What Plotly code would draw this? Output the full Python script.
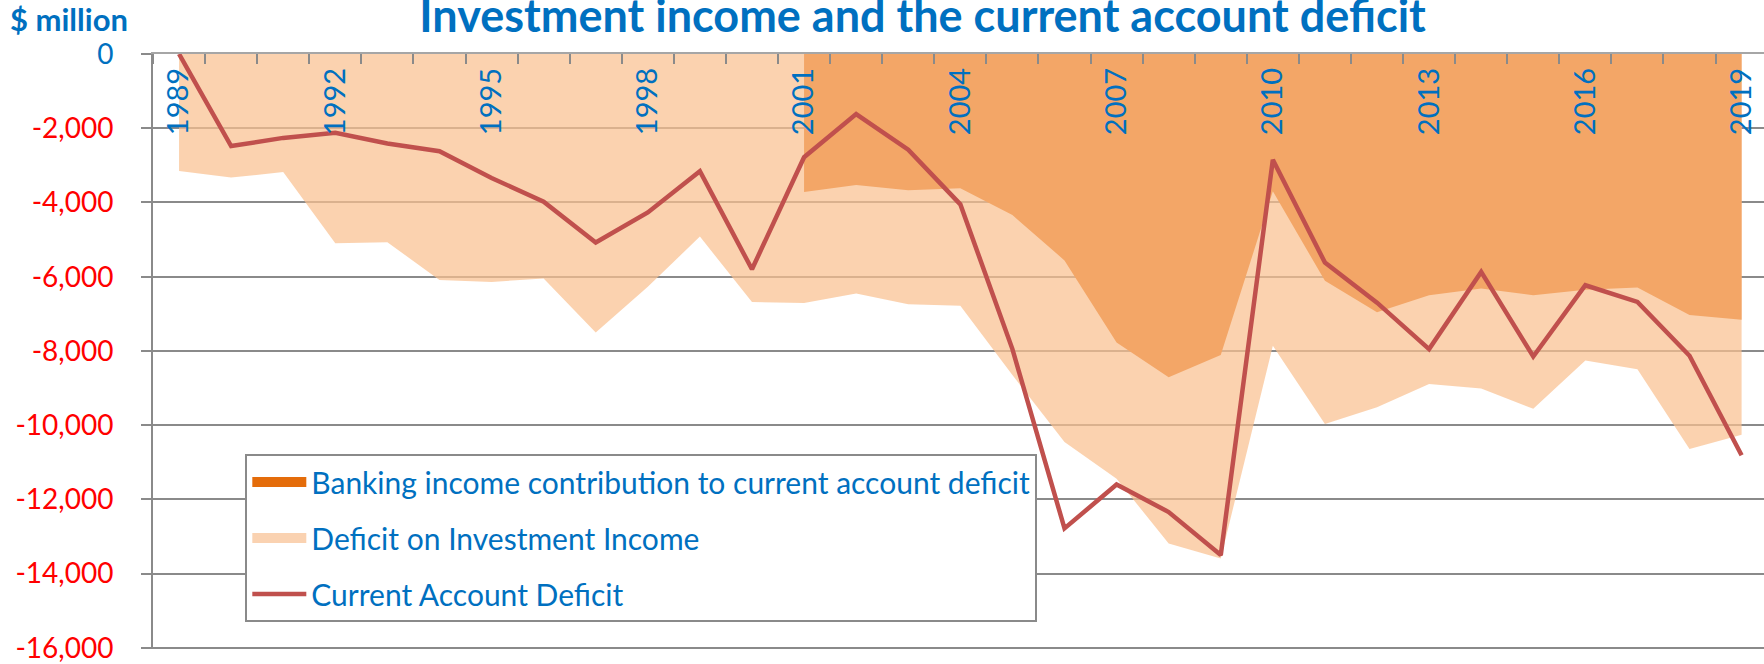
import plotly.graph_objects as go

years = list(range(1989, 2020))

current_account_deficit = [0, -2480, -2260, -2120, -2410, -2620, -3340, -3980, -5080, -4270,
                           -3160, -5800, -2780, -1620, -2580, -4050, -7950, -12780, -11600, -12340,
                           -13500, -2850, -5620, -6700, -7950, -5870, -8150, -6230, -6680, -8130,
                           -10810]

investment_income_deficit = [-3150, -3330, -3180, -5100, -5070, -6090, -6140, -6050, -7500, -6270,
                             -4920, -6680, -6710, -6450, -6740, -6780, -8650, -10450, -11440, -13190,
                             -13590, -7860, -9970, -9520, -8890, -9010, -9560, -8260, -8490, -10640,
                             -10260]

banking_years = list(range(2001, 2020))
banking_contribution = [-3720, -3530, -3670, -3620, -4340, -5560, -7770, -8710, -8110, -3700,
                        -6110, -6960, -6500, -6320, -6500, -6350, -6290, -7030, -7160]

year_tick_labels = years[::3]
y_tick_values = [0, -2000, -4000, -6000, -8000, -10000, -12000, -14000, -16000]

BLUE = "#0070C0"
RED = "#FF0000"
GRID = "#8A8A8A"
FONT = "Lato"

fig = go.Figure()

# areas (drawn first, no legend of their own)
fig.add_trace(go.Scatter(
    x=years, y=investment_income_deficit, mode="none", fill="tozeroy",
    fillcolor="rgba(250,192,144,0.72)", name="Deficit on Investment Income",
    legendgroup="inv", showlegend=False, hoverinfo="skip"))

fig.add_trace(go.Scatter(
    x=banking_years, y=banking_contribution, mode="none", fill="tozeroy",
    fillcolor="#F3A667", name="Banking income contribution to current account deficit",
    legendgroup="bank", showlegend=False, hoverinfo="skip"))

fig.add_trace(go.Scatter(
    x=years, y=current_account_deficit, mode="lines",
    line=dict(color="#C0504D", width=4.5), name="Current Account Deficit",
    legendgroup="cad", legendrank=3))

# legend swatches for the two area series
fig.add_trace(go.Scatter(
    x=[None], y=[None], mode="lines", line=dict(color="#E46C0A", width=18),
    name="Banking income contribution to current account deficit",
    legendgroup="bank", legendrank=1))
fig.add_trace(go.Scatter(
    x=[None], y=[None], mode="lines", line=dict(color="#FAD2B1", width=18),
    name="Deficit on Investment Income",
    legendgroup="inv", legendrank=2))

y_tick_text = [
    (f'<span style="color:{BLUE}">{v:,}</span>' if v == 0 else f"{v:,}")
    for v in y_tick_values
]

fig.update_layout(
    width=1764, height=664,
    margin=dict(l=153, r=0, t=54, b=15),
    paper_bgcolor="white", plot_bgcolor="white",
    font=dict(family=FONT, color=BLUE),
    title=dict(text="<b>Investment income and the current account deficit</b>",
               font=dict(family=FONT, size=45, color=BLUE),
               x=0.523, xanchor="center", y=0.975, yanchor="middle"),
    showlegend=True,
    legend=dict(x=0.0573, y=0.3277, xanchor="left", yanchor="top",
                bgcolor="white", bordercolor=GRID, borderwidth=2,
                font=dict(family=FONT, size=30, color=BLUE),
                traceorder="grouped", tracegroupgap=14, itemwidth=54),
    xaxis=dict(
        side="top", range=[1988.5, 2019.43], showgrid=False, zeroline=False,
        showline=True, linecolor="#A6A6A6", linewidth=2,
        tickmode="array", tickvals=year_tick_labels,
        ticktext=[str(y) for y in year_tick_labels],
        ticks="", tickangle=-90, ticklabelposition="outside", ticklabelstandoff=-89,
        tickfont=dict(family=FONT, size=29, color=BLUE),
        minor=dict(ticks="inside", ticklen=10, tickwidth=2, tickcolor=GRID,
                   tick0=1988.5, dtick=1, showgrid=False),
    ),
    yaxis=dict(
        range=[-16030, 0], tickmode="array", tickvals=y_tick_values, ticktext=y_tick_text,
        showgrid=True, gridcolor=GRID, gridwidth=2, zeroline=False,
        showline=True, linecolor=GRID, linewidth=2,
        ticks="outside", ticklen=10, tickwidth=2, tickcolor=GRID,
        tickfont=dict(family=FONT, size=28, color=RED), ticklabelstandoff=22,
        ticklabeloverflow="allow",
    ),
)

fig.add_annotation(text="<b>$ million</b>", xref="paper", yref="paper",
                   x=-0.090, y=1.059, xanchor="left", yanchor="middle", showarrow=False,
                   font=dict(family=FONT, size=31, color=BLUE))

fig.write_html("out.html", config={"displayModeBar": False},
               post_script="document.body.style.margin='0';")
